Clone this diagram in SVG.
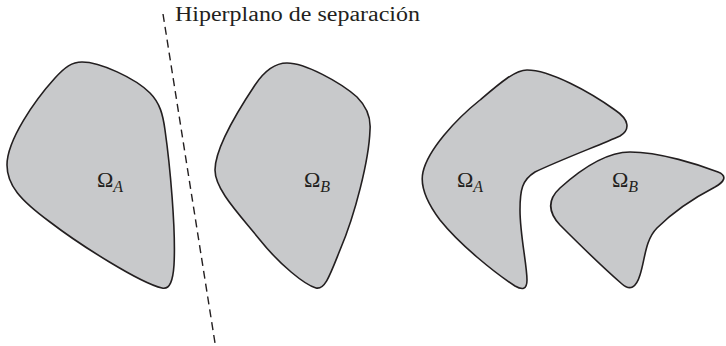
<svg xmlns="http://www.w3.org/2000/svg" width="726" height="346" viewBox="0 0 726 346">
<style>
.reg{fill:#c8c9cb;stroke:#231f20;stroke-width:1.6;stroke-linejoin:round}
.lbl{font-family:"Liberation Serif","Times New Roman",serif;font-size:20px;fill:#231f20}
.om{font-size:22px}
.sub{font-style:italic;font-size:16px}
.hp{fill:none;stroke:#231f20;stroke-width:1.4;stroke-dasharray:8,5}
</style>
<rect width="726" height="346" fill="#ffffff"/>
<g id="connectors">
<line class="hp" x1="163" y1="14" x2="215" y2="343"/>
<text class="lbl" x="175" y="21" textLength="245" lengthAdjust="spacingAndGlyphs">Hiperplano de separación</text>
</g>
<g id="omegaA1">
<path class="reg" d="M82,62 C100,62 135,78 150,93 C160,103 163,115 165,130 C170,165 176,230 174,265 C173,280 170,290 162,288 C140,283 80,245 50,222 C20,200 7,185 7,165 C7,140 35,100 55,78 C65,67 72,62 82,62 Z"/>
<text class="lbl om" x="97" y="187">Ω<tspan class="sub" dy="5">A</tspan></text>
</g>
<g id="omegaB1">
<path class="reg" d="M287,63 C305,63 340,82 357,97 C367,107 371,118 370,130 C369,160 355,215 340,250 C330,275 325,290 316,288 C305,285 280,265 260,240 C240,215 215,190 215,170 C215,150 235,115 255,85 C265,70 275,63 287,63 Z"/>
<text class="lbl om" x="304" y="187">Ω<tspan class="sub" dy="5">B</tspan></text>
</g>
<g id="omegaA2">
<path class="reg" d="M527,70 C550,70 590,92 615,110 C630,120 630,130 620,136 C600,145 560,160 535,172 C522,180 520,190 520,210 C520,235 527,265 527,280 C527,290 522,290 515,286 C495,273 460,245 440,220 C425,200 420,185 423,172 C428,150 455,120 480,100 C500,83 515,70 527,70 Z"/>
<text class="lbl om" x="457" y="187">Ω<tspan class="sub" dy="5">A</tspan></text>
</g>
<g id="omegaB2">
<path class="reg" d="M630,152 C660,152 700,165 718,172 C728,176 724,182 715,187 C690,200 670,215 657,228 C645,240 645,260 640,275 C636,288 630,291 622,284 C600,265 575,240 560,225 C548,212 547,200 560,188 C580,170 605,152 630,152 Z"/>
<text class="lbl om" x="612" y="187">Ω<tspan class="sub" dy="5">B</tspan></text>
</g>
</svg>
